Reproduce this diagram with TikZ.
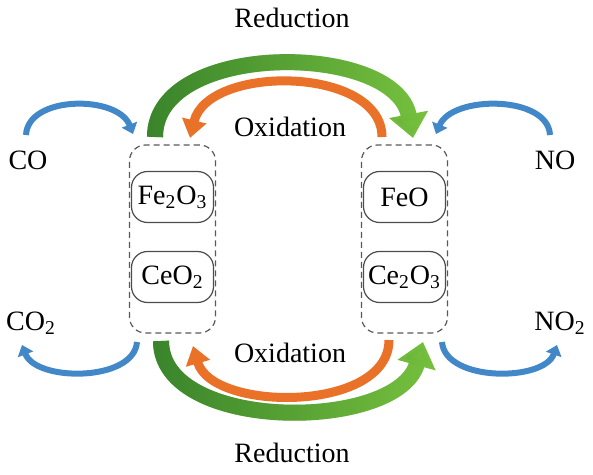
\documentclass[tikz,border=0pt]{standalone}
\usepackage{fontspec}
\setmainfont{Liberation Serif}
\usetikzlibrary{arrows.meta, fadings}

\definecolor{greenDark}{RGB}{58,132,44}
\definecolor{greenLight}{RGB}{118,192,62}
\definecolor{orangeArrow}{RGB}{234,114,40}
\definecolor{blueArrow}{RGB}{66,136,200}

\tikzset{
    txt/.style={font=\fontsize{14}{16}\selectfont, inner sep=0pt},
    oxide/.style={txt, draw=black!70, line width=0.6pt, rounded corners=8pt,
        minimum width=41pt, minimum height=25.5pt},
    phase/.style={draw=black!65, line width=0.6pt, dash pattern=on 3pt off 2pt,
        rounded corners=8pt, minimum width=43pt, minimum height=94pt},
    greenarrow/.style={line width=8pt, -{Triangle[width=19pt,length=12pt]}},
    orangearrow/.style={draw=orangeArrow, line width=4.5pt, -{Triangle[width=12pt,length=9pt]}},
    bluearrow/.style={draw=blueArrow, line width=3pt, -{Triangle[width=8pt,length=5pt]}}
}

\begin{document}
\begin{tikzpicture}[x=0.5pt, y=-0.5pt]
    \useasboundingbox (0,0) rectangle (593,475);

    % catalyst states
    \node[phase] (leftbox) at (172.5,239) {};
    \node[phase] (rightbox) at (404.5,239) {};
    \node[oxide] (fe2o3) at (172.5,197) {Fe\textsubscript{2}O\textsubscript{3}};
    \node[oxide] (ceo2) at (172.5,277) {CeO\textsubscript{2}};
    \node[oxide] (feo) at (404.5,197) {FeO};
    \node[oxide] (ce2o3) at (404.5,277) {Ce\textsubscript{2}O\textsubscript{3}};

    % gases and labels
    \node[txt] (co) at (28,160) {CO};
    \node[txt] (no) at (555,160) {NO};
    \node[txt] (co2) at (31,323) {CO\textsubscript{2}};
    \node[txt] (no2) at (560,323) {NO\textsubscript{2}};
    \node[txt] (redTop) at (292,18) {Reduction};
    \node[txt] (oxTop) at (290,127) {Oxidation};
    \node[txt] (oxBot) at (290,353) {Oxidation};
    \node[txt] (redBot) at (292,453) {Reduction};

    % arrow ends
    \coordinate (gTopA) at (155,137);
    \coordinate (gTopB) at (413,138);
    \coordinate (oTopA) at (382,137);
    \coordinate (oTopB) at (190,138);
    \coordinate (gBotA) at (161,341);
    \coordinate (gBotB) at (423,342);
    \coordinate (oBotA) at (389,340);
    \coordinate (oBotB) at (193,346);
    \coordinate (coA) at (26,135);
    \coordinate (coB) at (133,134);
    \coordinate (noA) at (550,135);
    \coordinate (noB) at (436,134);
    \coordinate (co2A) at (137,342);
    \coordinate (co2B) at (22,345);
    \coordinate (no2A) at (442,342);
    \coordinate (no2B) at (557,345);

    % reduction / oxidation cycle
    \draw[greenarrow, draw=greenLight] (gTopA) .. controls (155,40) and (395,42) .. (gTopB);
    \draw[greenarrow, draw=greenDark, path fading=east] (gTopA) .. controls (155,40) and (395,42) .. (gTopB);
    \draw[orangearrow] (oTopA) .. controls (382,66) and (208,64) .. (oTopB);
    \draw[greenarrow, draw=greenLight] (gBotA) .. controls (161,433) and (398,432) .. (gBotB);
    \draw[greenarrow, draw=greenDark, path fading=east] (gBotA) .. controls (161,433) and (398,432) .. (gBotB);
    \draw[orangearrow] (oBotA) .. controls (389,413) and (212,412) .. (oBotB);

    % gas arrows
    \draw[bluearrow] (coA) .. controls (28,95) and (118,95) .. (coB);
    \draw[bluearrow] (noA) .. controls (548,95) and (452,95) .. (noB);
    \draw[bluearrow] (co2A) .. controls (134,382) and (36,382) .. (co2B);
    \draw[bluearrow] (no2A) .. controls (445,382) and (544,382) .. (no2B);
\end{tikzpicture}
\end{document}
